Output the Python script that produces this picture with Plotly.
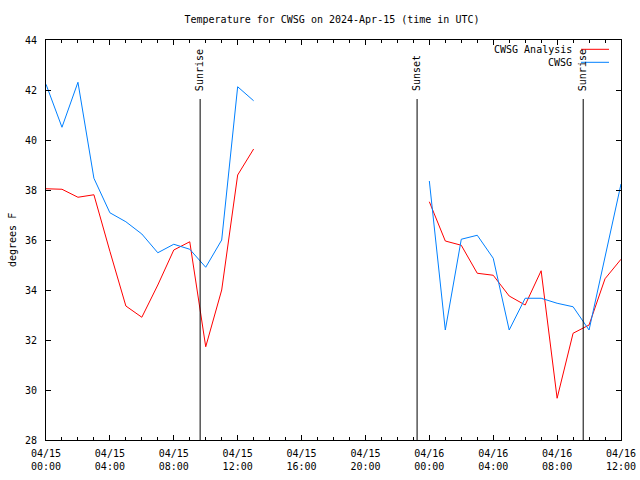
import plotly.graph_objects as go
import pandas as pd

# ---- data ----
times = pd.date_range("2024-04-15 00:00", "2024-04-16 12:00", freq="h")
analysis = [38.05, 38.03, 37.71, 37.81, 35.55, 33.36, 32.91, 34.2, 35.6, 35.93, 31.73, 34.0, 38.6, 39.64,
            None, None, None, None, None, None, None, None, None, None,
            37.53, 35.96, 35.79, 34.67, 34.59, 33.76, 33.4, 34.77, 29.67, 32.27, 32.6, 34.45, 35.23]
observed = [42.23, 40.51, 42.31, 38.47, 37.09, 36.73, 36.24, 35.49, 35.83, 35.63, 34.91, 36.0, 42.13, 41.57,
            None, None, None, None, None, None, None, None, None, None,
            38.36, 32.4, 36.03, 36.19, 35.27, 32.4, 33.67, 33.67, 33.47, 33.33, 32.4, 35.3, 38.24]
event_names = ["Sunrise", "Sunset", "Sunrise"]
event_times = ["2024-04-15 09:39", "2024-04-15 23:14", "2024-04-16 09:38"]
tick_times = pd.date_range("2024-04-15 00:00", "2024-04-16 12:00", freq="4h")
tick_labels = [t.strftime("%m/%d<br>%H:%M") for t in tick_times]
y_ticks = [28, 30, 32, 34, 36, 38, 40, 42, 44]
series_names = ["CWSG Analysis", "CWSG"]
series_colors = ["#ff0000", "#0080ff"]

FONT = "DejaVu Sans Mono"
L, R, T, B = 46, 19, 40, 40
W, H = 640, 480
pw, ph = W - L - R, H - T - B

fig = go.Figure()
for name, vals, col in zip(series_names, [analysis, observed], series_colors):
    fig.add_trace(go.Scatter(x=times, y=vals, mode="lines", name=name,
                             line=dict(color=col, width=1), connectgaps=False,
                             showlegend=False))

shapes = []
annotations = []
line_top = (440 - 99) / ph
text_bottom = (440 - 93) / ph
for nm, t in zip(event_names, event_times):
    shapes.append(dict(type="line", xref="x", yref="paper", x0=t, x1=t, y0=0, y1=line_top,
                       line=dict(color="black", width=1)))
    annotations.append(dict(x=t, y=text_bottom, xref="x", yref="paper", text=nm, showarrow=False,
                            textangle=-90, xanchor="center", yanchor="bottom",
                            font=dict(family=FONT, size=10, color="black")))

# manual legend (text on left, sample on right like gnuplot)
for i, (name, col) in enumerate(zip(series_names, series_colors)):
    py = 49.3 + i * 13
    yp = (440 - py) / ph
    annotations.append(dict(x=(574 - L) / pw, y=yp, xref="paper", yref="paper", text=name,
                            showarrow=False, xanchor="right", yanchor="middle",
                            font=dict(family=FONT, size=10, color="black")))
    shapes.append(dict(type="line", xref="paper", yref="paper", x0=(581 - L) / pw, x1=(609 - L) / pw,
                       y0=yp, y1=yp, line=dict(color=col, width=1)))

annotations.append(dict(x=(12 - L) / pw, y=0.5, xref="paper", yref="paper", text="degrees F",
                        showarrow=False, textangle=-90, xanchor="center", yanchor="middle",
                        font=dict(family=FONT, size=10, color="black")))

fig.update_layout(
    width=W, height=H,
    margin=dict(l=L, r=R, t=T, b=B),
    paper_bgcolor="white", plot_bgcolor="white",
    font=dict(family=FONT, size=10, color="black"),
    title=dict(text="Temperature for CWSG on 2024-Apr-15 (time in UTC)", x=332 / W, xanchor="center",
               y=1 - 19 / H, yanchor="middle", yref="container",
               font=dict(family=FONT, size=10, color="black")),
    shapes=shapes, annotations=annotations, showlegend=False,
)
fig.update_xaxes(type="date", range=[times[0], times[-1]], tickmode="array",
                 tickvals=list(tick_times), ticktext=tick_labels,
                 ticks="inside", ticklen=5, tickcolor="black", tickwidth=1,
                 minor=dict(dtick=3600000, ticks="inside", ticklen=3, tickcolor="black", showgrid=False),
                 showline=True, linecolor="black", linewidth=1, mirror="allticks",
                 showgrid=False, zeroline=False, automargin=False, ticklabelstandoff=4,
                 tickfont=dict(family=FONT, size=10, color="black"))
fig.update_yaxes(range=[28, 44], tickmode="array", tickvals=y_ticks, ticktext=[str(v) for v in y_ticks],
                 ticks="inside", ticklen=5, tickcolor="black", tickwidth=1,
                 showline=True, linecolor="black", linewidth=1, mirror="allticks",
                 showgrid=False, zeroline=False, automargin=False, ticklabelstandoff=6,
                 tickfont=dict(family=FONT, size=10, color="black"))

fig.write_html("out.html", config={"displayModeBar": False},
               post_script="document.body.style.margin='0';")
